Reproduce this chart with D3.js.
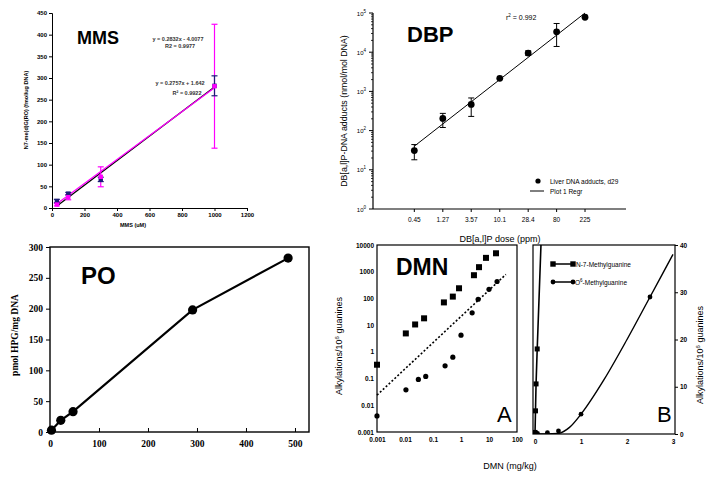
<!DOCTYPE html>
<html><head><meta charset="utf-8">
<script src="https://cdn.jsdelivr.net/npm/d3@7/dist/d3.min.js"></script>
<style>body{margin:0;background:#fff}svg{display:block}</style>
</head><body><svg id="c" width="707" height="477"></svg>
<script>
// ---------------- DATA ----------------
// MMS panel
const mmsDose = [30, 100, 300, 1000];
const mmsSeriesA = [16, 33, 66, 282];
const mmsSeriesAErr = [4, 3, 5, 23];
const mmsSeriesB = [8, 25, 72, 281];
const mmsSeriesBErr = [3, 6, 23, 143];
const mmsFitSlope = [0.2832, 0.2757];
const mmsFitIntercept = [-4.0077, 1.642];
const mmsYTicks = [0, 50, 100, 150, 200, 250, 300, 350, 400, 450];
const mmsXTicks = [0, 200, 400, 600, 800, 1000, 1200];
const mmsEq = ["y = 0.2832x - 4.0077", "R2 = 0.9977", "y = 0.2757x + 1.642", "R² = 0.9922"];

// DBP panel
const dbpDose = [0.45, 1.27, 3.57, 10.1, 28.4, 80, 225];
const dbpDoseLabels = ["0.45", "1.27", "3.57", "10.1", "28.4", "80", "225"];
const dbpAdducts = [31, 205, 465, 2150, 9500, 33000, 78000];
const dbpErrLow = [18, 120, 230, null, 8300, 14000, null];
const dbpErrHigh = [44, 275, 680, null, 10800, 54000, null];
const dbpRegrDose = [0.45, 225];
const dbpRegrValue = [40, 100000];
const dbpYExponents = [0, 1, 2, 3, 4, 5];

// PO panel
const poDose = [3, 22, 47, 291, 486];
const poHPG = [3, 19, 33, 198, 282];
const poYTicks = [0, 50, 100, 150, 200, 250, 300];
const poXTicks = [0, 100, 200, 300, 400, 500];

// DMN panel
const dmnN7Dose = [0.001, 0.0107, 0.023, 0.048, 0.245, 0.51, 0.85, 2.9, 4.4, 7.8, 17.8];
const dmnN7 = [0.33, 4.9, 10.6, 18, 71, 117, 240, 740, 1480, 3300, 4900];
const dmnO6Dose = [0.001, 0.0108, 0.03, 0.055, 0.27, 0.51, 1.0, 2.5, 4.1, 10, 19.4];
const dmnO6 = [0.004, 0.038, 0.093, 0.12, 0.30, 0.63, 4.2, 29, 93, 220, 430];
const dmnTrendDose = [0.001, 40];
const dmnTrendValue = [0.024, 790];
const dmnLogTicks = [0.001, 0.01, 0.1, 1, 10, 100, 1000, 10000];
const dmnLogTickLabels = ["0.001", "0.01", "0.1", "1", "10", "100", "1000", "10000"];
const dmnXLogTicks = [0.001, 0.01, 0.1, 1, 10, 100];
const dmnO6CurveDose = [0, 0.25, 0.5, 0.75, 1, 1.5, 2, 2.5, 3];
const dmnO6CurveValue = [0, 0, 0.1, 1.4, 4.2, 11.5, 20, 29, 38];
const dmnLinXTicks = [0, 1, 2, 3];
const dmnLinYTicks = [0, 10, 20, 30, 40];
const dmnLegend = ["N-7-Methylguanine", "-Methylguanine"];

// ---------------- DRAW ----------------
const svg = d3.select("#c");
const SANS = "'Liberation Sans', Arial, sans-serif";
const SERIF = "'Liberation Serif', 'Times New Roman', serif";
const fmtInt = d3.format("d");

function txt(g, x, y, s, o = {}) {
  const t = g.append("text").attr("x", x).attr("y", y).text(s)
    .attr("font-family", o.ff || SANS).attr("font-size", o.fs || 8)
    .attr("font-weight", o.fw || "normal").attr("text-anchor", o.anchor || "start")
    .attr("fill", o.fill || "#000");
  if (o.rot) t.attr("transform", `rotate(${o.rot},${x},${y})`);
  return t;
}
function styleAxis(g, fs, fw, ff) {
  g.selectAll("text").attr("font-size", fs).attr("font-weight", fw).attr("font-family", ff).attr("fill", "#000");
  g.selectAll("line,path").attr("stroke", "#000");
}

// ===== MMS =====
{
  const g = svg.append("g");
  const x = d3.scaleLinear([0, 1200], [52, 247]);
  const y = d3.scaleLinear([0, 450], [208, 13]);
  const ya = g.append("g").attr("transform", "translate(52,0)")
    .call(d3.axisLeft(y).tickValues(mmsYTicks).tickFormat(fmtInt).tickSize(3).tickPadding(2));
  styleAxis(ya, 6, "bold", SANS);
  const xa = g.append("g").attr("transform", "translate(0,208)")
    .call(d3.axisBottom(x).tickValues(mmsXTicks).tickFormat(fmtInt).tickSize(3).tickPadding(2));
  styleAxis(xa, 6, "bold", SANS);
  txt(g, 133, 227, "MMS (uM)", {fs: 5.5, fw: "bold", anchor: "middle"});
  txt(g, 28, 110, "N7-me(d)G(RO) (fmol/ug DNA)", {fs: 5.5, fw: "bold", anchor: "middle", rot: -90});
  txt(g, 77, 44, "MMS", {fs: 18, fw: "bold"});

  const series = [
    {vals: mmsSeriesA, err: mmsSeriesAErr, col: "#000", mark: "#1c1c78", fi: 0},
    {vals: mmsSeriesB, err: mmsSeriesBErr, col: "#ff00ff", mark: "#ff00ff", fi: 1}
  ];
  series.forEach(s => {
    const fx = [d3.min(mmsDose), d3.max(mmsDose)];
    g.append("line")
      .attr("x1", x(fx[0])).attr("y1", y(mmsFitSlope[s.fi] * fx[0] + mmsFitIntercept[s.fi]))
      .attr("x2", x(fx[1])).attr("y2", y(mmsFitSlope[s.fi] * fx[1] + mmsFitIntercept[s.fi]))
      .attr("stroke", s.col).attr("stroke-width", 1.3);
  });
  series.slice().reverse().forEach(s => {
    mmsDose.forEach((d, i) => {
      const hi = y(s.vals[i] + s.err[i]), lo = y(s.vals[i] - s.err[i]);
      g.append("line").attr("x1", x(d)).attr("x2", x(d)).attr("y1", hi).attr("y2", lo)
        .attr("stroke", s.mark).attr("stroke-width", 1.2);
      [hi, lo].forEach(yy => g.append("line").attr("x1", x(d) - 3).attr("x2", x(d) + 3)
        .attr("y1", yy).attr("y2", yy).attr("stroke", s.mark).attr("stroke-width", 1.2));
    });
  });
  series.forEach(s => {
    g.selectAll(null).data(mmsDose).join("rect")
      .attr("x", (d) => x(d) - 2.2).attr("y", (d, i) => y(s.vals[i]) - 2.2)
      .attr("width", 4.4).attr("height", 4.4).attr("fill", s.mark);
  });
  txt(g, 178, 41, mmsEq[0], {fs: 5.5, fw: "bold", anchor: "middle", fill: "#333"});
  txt(g, 180, 48, mmsEq[1], {fs: 5.5, fw: "bold", anchor: "middle", fill: "#333"});
  txt(g, 180, 85, mmsEq[2], {fs: 5.5, fw: "bold", anchor: "middle", fill: "#333"});
  txt(g, 187, 95, mmsEq[3], {fs: 5.5, fw: "bold", anchor: "middle", fill: "#333"});
}

// ===== DBP =====
{
  const g = svg.append("g");
  const x = d3.scaleLog([0.1, 1000], [373, 626]);
  const y = d3.scaleLog([1, 1e5], [209, 13]);
  g.append("line").attr("x1", 373).attr("x2", 373).attr("y1", 13).attr("y2", 209).attr("stroke", "#000").attr("stroke-width", 1.2);
  dbpYExponents.forEach(e => {
    const base = Math.pow(10, e);
    g.append("line").attr("x1", 369).attr("x2", 373).attr("y1", y(base)).attr("y2", y(base)).attr("stroke", "#000");
    if (e < 5) for (let m = 2; m <= 9; m++) {
      g.append("line").attr("x1", 371).attr("x2", 373).attr("y1", y(base * m)).attr("y2", y(base * m))
        .attr("stroke", "#000").attr("stroke-width", 0.8);
    }
    const t = txt(g, 366, y(base) + 2.5, "10", {fs: 6, anchor: "end"});
    t.append("tspan").attr("dy", -3).attr("font-size", 4.5).text(String(e));
  });
  g.append("line").attr("x1", 373).attr("x2", 626).attr("y1", 209).attr("y2", 209).attr("stroke", "#000").attr("stroke-width", 1.2);
  dbpDose.forEach((d, i) => {
    g.append("line").attr("x1", x(d)).attr("x2", x(d)).attr("y1", 209).attr("y2", 212).attr("stroke", "#000");
    txt(g, x(d), 222, dbpDoseLabels[i], {fs: 6.5, anchor: "middle"});
  });
  txt(g, 500, 242, "DB[a,l]P dose (ppm)", {fs: 9, anchor: "middle"});
  txt(g, 347, 111, "DB[a,l]P-DNA adducts (nmol/mol DNA)", {fs: 8.8, anchor: "middle", rot: -90});
  txt(g, 407, 42, "DBP", {fs: 22, fw: "bold"});
  g.append("line").attr("x1", x(dbpRegrDose[0])).attr("y1", y(dbpRegrValue[0]))
    .attr("x2", x(dbpRegrDose[1])).attr("y2", y(dbpRegrValue[1])).attr("stroke", "#000").attr("stroke-width", 1);
  dbpDose.forEach((d, i) => {
    if (dbpErrLow[i] == null) return;
    const hi = y(dbpErrHigh[i]), lo = y(dbpErrLow[i]);
    g.append("line").attr("x1", x(d)).attr("x2", x(d)).attr("y1", hi).attr("y2", lo).attr("stroke", "#000");
    [hi, lo].forEach(yy => g.append("line").attr("x1", x(d) - 3).attr("x2", x(d) + 3).attr("y1", yy).attr("y2", yy).attr("stroke", "#000"));
  });
  g.selectAll(null).data(dbpDose).join("circle")
    .attr("cx", d => x(d)).attr("cy", (d, i) => y(dbpAdducts[i])).attr("r", 3.4).attr("fill", "#000");
  const r2 = txt(g, 506, 20, "r", {fs: 7});
  r2.append("tspan").attr("dy", -3).attr("font-size", 4.5).text("2");
  r2.append("tspan").attr("dy", 3).text(" = 0.992");
  g.append("circle").attr("cx", 538).attr("cy", 181).attr("r", 2.6).attr("fill", "#000");
  txt(g, 550, 184, "Liver DNA adducts, d29", {fs: 6.5});
  g.append("line").attr("x1", 530).attr("x2", 544).attr("y1", 191).attr("y2", 191).attr("stroke", "#000");
  txt(g, 550, 194, "Plot 1 Regr", {fs: 6.5});
}

// ===== PO =====
{
  const g = svg.append("g");
  const x = d3.scaleLinear([0, 528.6], [50, 309]);
  const y = d3.scaleLinear([0, 300], [432, 247]);
  g.append("rect").attr("x", 50).attr("y", 247).attr("width", 259).attr("height", 185)
    .attr("fill", "none").attr("stroke", "#000").attr("stroke-width", 1.4);
  const ya = g.append("g").attr("transform", "translate(50,0)")
    .call(d3.axisLeft(y).tickValues(poYTicks).tickSize(4).tickPadding(3));
  styleAxis(ya, 9.5, "bold", SERIF);
  ya.select(".domain").remove();
  const xa = g.append("g").attr("transform", "translate(0,432)")
    .call(d3.axisBottom(x).tickValues(poXTicks).tickSize(-4).tickPadding(6));
  styleAxis(xa, 9.5, "bold", SERIF);
  xa.select(".domain").remove();
  xa.selectAll("text").attr("dy", "0.9em");
  txt(g, 18, 335, "pmol HPG/mg DNA", {fs: 9.5, fw: "bold", ff: SERIF, anchor: "middle", rot: -90});
  txt(g, 81, 284, "PO", {fs: 24, fw: "bold"});
  const line = d3.line().x((d, i) => x(poDose[i])).y((d, i) => y(poHPG[i]));
  g.append("path").attr("d", line(poDose)).attr("fill", "none").attr("stroke", "#000").attr("stroke-width", 2.2);
  g.selectAll(null).data(poDose).join("circle")
    .attr("cx", d => x(d)).attr("cy", (d, i) => y(poHPG[i])).attr("r", 4.6).attr("fill", "#000");
}

// ===== DMN A =====
{
  const g = svg.append("g");
  const x = d3.scaleLog([0.001, 100], [377, 517]);
  const y = d3.scaleLog([0.001, 10000], [432, 245]);
  g.append("rect").attr("x", 377).attr("y", 245).attr("width", 140).attr("height", 187)
    .attr("fill", "none").attr("stroke", "#000").attr("stroke-width", 1.2);
  const ya = g.append("g").attr("transform", "translate(377,0)")
    .call(d3.axisLeft(y).tickValues(dmnLogTicks).tickFormat((d, i) => dmnLogTickLabels[i]).tickSize(0).tickPadding(3));
  styleAxis(ya, 6.5, "bold", SANS); ya.select(".domain").remove();
  const xa = g.append("g").attr("transform", "translate(0,432)")
    .call(d3.axisBottom(x).tickValues(dmnXLogTicks).tickFormat((d, i) => dmnLogTickLabels[i]).tickSize(0).tickPadding(5));
  styleAxis(xa, 6.5, "bold", SANS); xa.select(".domain").remove();
  g.append("line").attr("x1", x(dmnTrendDose[0])).attr("y1", y(dmnTrendValue[0]))
    .attr("x2", x(dmnTrendDose[1])).attr("y2", y(dmnTrendValue[1]))
    .attr("stroke", "#000").attr("stroke-width", 1.6).attr("stroke-dasharray", "2,2");
  g.selectAll(null).data(dmnN7Dose).join("rect")
    .attr("x", d => x(d) - 3).attr("y", (d, i) => y(dmnN7[i]) - 3).attr("width", 6).attr("height", 6).attr("fill", "#000");
  g.selectAll(null).data(dmnO6Dose).join("circle")
    .attr("cx", d => x(d)).attr("cy", (d, i) => y(dmnO6[i])).attr("r", 2.6).attr("fill", "#000");
  txt(g, 396, 275, "DMN", {fs: 23, fw: "bold"});
  txt(g, 497, 422, "A", {fs: 22});
  const lab = txt(g, 342, 346, "Alkylations/10", {fs: 9, anchor: "middle", rot: -90});
  lab.append("tspan").attr("dy", -3).attr("font-size", 6).text("6");
  lab.append("tspan").attr("dy", 3).text(" guanines");
  txt(g, 510, 469, "DMN  (mg/kg)", {fs: 9, anchor: "middle"});
}

// ===== DMN B =====
{
  const g = svg.append("g");
  const x = d3.scaleLinear([0, 3], [535, 673]);
  const y = d3.scaleLinear([0, 40], [434, 245]);
  svg.append("defs").append("clipPath").attr("id", "clipB")
    .append("rect").attr("x", 533).attr("y", 245).attr("width", 142).attr("height", 189);
  g.append("rect").attr("x", 533).attr("y", 245).attr("width", 142).attr("height", 189)
    .attr("fill", "none").attr("stroke", "#000").attr("stroke-width", 1.2);
  const ya = g.append("g").attr("transform", "translate(675,0)")
    .call(d3.axisRight(y).tickValues(dmnLinYTicks).tickFormat(fmtInt).tickSize(3).tickPadding(2));
  styleAxis(ya, 6.5, "bold", SANS); ya.select(".domain").remove();
  const xa = g.append("g").attr("transform", "translate(0,434)")
    .call(d3.axisBottom(x).tickValues(dmnLinXTicks).tickFormat(fmtInt).tickSize(0).tickPadding(5));
  styleAxis(xa, 6.5, "bold", SANS); xa.select(".domain").remove();
  const cg = g.append("g").attr("clip-path", "url(#clipB)");
  const lineN7 = d3.line().x((d, i) => x(dmnN7Dose[i])).y((d, i) => y(dmnN7[i]));
  cg.append("path").attr("d", lineN7(dmnN7Dose)).attr("fill", "none").attr("stroke", "#000").attr("stroke-width", 1.6);
  const lineO6 = d3.line().curve(d3.curveMonotoneX).x((d, i) => x(dmnO6CurveDose[i])).y((d, i) => y(dmnO6CurveValue[i]));
  cg.append("path").attr("d", lineO6(dmnO6CurveDose)).attr("fill", "none").attr("stroke", "#000").attr("stroke-width", 1.4);
  cg.selectAll(null).data(dmnN7Dose).join("rect")
    .attr("x", d => x(d) - 2.5).attr("y", (d, i) => y(dmnN7[i]) - 2.5).attr("width", 5).attr("height", 5).attr("fill", "#000");
  cg.selectAll(null).data(dmnO6Dose).join("circle")
    .attr("cx", d => x(d)).attr("cy", (d, i) => y(dmnO6[i])).attr("r", 2.4).attr("fill", "#000");
  txt(g, 657, 422, "B", {fs: 22});
  g.append("line").attr("x1", 553).attr("x2", 573).attr("y1", 264).attr("y2", 264).attr("stroke", "#000").attr("stroke-width", 1.5);
  [553, 573].forEach(cx => g.append("rect").attr("x", cx - 2.7).attr("y", 261.3).attr("width", 5.4).attr("height", 5.4).attr("fill", "#000"));
  txt(g, 576, 266.5, dmnLegend[0], {fs: 6.5});
  g.append("line").attr("x1", 553).attr("x2", 573).attr("y1", 282).attr("y2", 282).attr("stroke", "#000").attr("stroke-width", 1.5);
  [553, 573].forEach(cx => g.append("circle").attr("cx", cx).attr("cy", 282).attr("r", 2.4).attr("fill", "#000"));
  const o6 = txt(g, 575, 284.5, "O", {fs: 6.5});
  o6.append("tspan").attr("dy", -3).attr("font-size", 4.5).text("6");
  o6.append("tspan").attr("dy", 3).text(dmnLegend[1]);
  const lab = txt(g, 703, 355, "Alkylations/10", {fs: 9, anchor: "middle", rot: -90});
  lab.append("tspan").attr("dy", -3).attr("font-size", 6).text("6");
  lab.append("tspan").attr("dy", 3).text(" guanines");
}
</script></body></html>
